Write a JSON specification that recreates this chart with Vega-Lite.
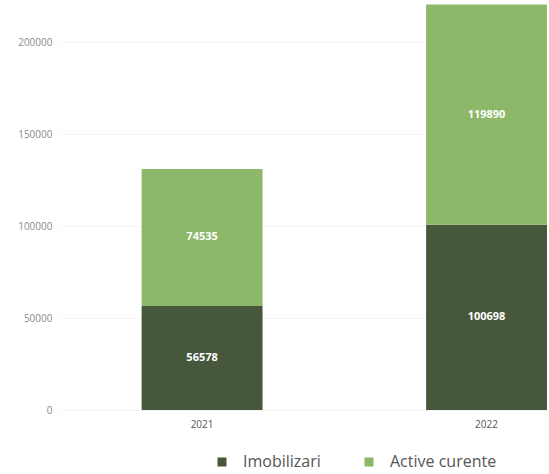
{
  "$schema": "https://vega.github.io/schema/vega-lite/v6.json",
  "autosize": "none",
  "width": 489,
  "height": 410,
  "padding": {"left": 60, "top": 0, "right": 0, "bottom": 64},
  "background": "white",
  "data": {
    "values": [
      {"an": "2021", "categorie": "Imobilizari", "ordine": 1, "valoare": 56578},
      {"an": "2021", "categorie": "Active curente", "ordine": 2, "valoare": 74535},
      {"an": "2022", "categorie": "Imobilizari", "ordine": 1, "valoare": 100698},
      {"an": "2022", "categorie": "Active curente", "ordine": 2, "valoare": 119890}
    ]
  },
  "transform": [
    {"stack": "valoare", "groupby": ["an"], "sort": [{"field": "ordine", "order": "ascending"}], "as": ["v0", "v1"]},
    {"calculate": "(datum.v0 + datum.v1) / 2", "as": "mijloc"}
  ],
  "config": {
    "view": {"stroke": null},
    "font": "Open Sans"
  },
  "encoding": {
    "x": {
      "field": "an",
      "type": "nominal",
      "scale": {"paddingInner": 0.575, "paddingOuter": 0.147, "align": 0.976},
      "axis": {
        "title": null,
        "labelAngle": 0,
        "ticks": false,
        "domain": false,
        "labelFontSize": 10,
        "labelColor": "#555555",
        "labelPadding": 9
      }
    }
  },
  "layer": [
    {
      "mark": {"type": "bar"},
      "encoding": {
        "y": {
          "field": "v0",
          "type": "quantitative",
          "scale": {"domain": [0, 223000], "nice": false, "zero": true},
          "axis": {
            "title": null,
            "values": [0, 50000, 100000, 150000, 200000],
            "format": "d",
            "ticks": false,
            "domain": false,
            "grid": true,
            "gridColor": "#f4f4f4",
            "labelFontSize": 10,
            "labelColor": "#8a8a8a",
            "labelPadding": 8
          }
        },
        "y2": {"field": "v1"},
        "color": {
          "field": "categorie",
          "type": "nominal",
          "scale": {"domain": ["Imobilizari", "Active curente"], "range": ["#46573b", "#8db769"]},
          "legend": {
            "title": null,
            "orient": "none",
            "direction": "horizontal",
            "legendX": 154,
            "legendY": 454,
            "symbolType": "square",
            "symbolSize": 81,
            "symbolStrokeWidth": 0,
            "symbolOpacity": 1,
            "labelFontSize": 16,
            "labelColor": "#555555",
            "labelOffset": 13,
            "columnPadding": 40
          }
        }
      }
    },
    {
      "mark": {"type": "text", "color": "white", "fontSize": 11, "fontWeight": "bold", "baseline": "middle", "align": "center"},
      "encoding": {
        "y": {"field": "mijloc", "type": "quantitative"},
        "text": {"field": "valoare", "type": "quantitative", "format": "d"}
      }
    }
  ]
}
